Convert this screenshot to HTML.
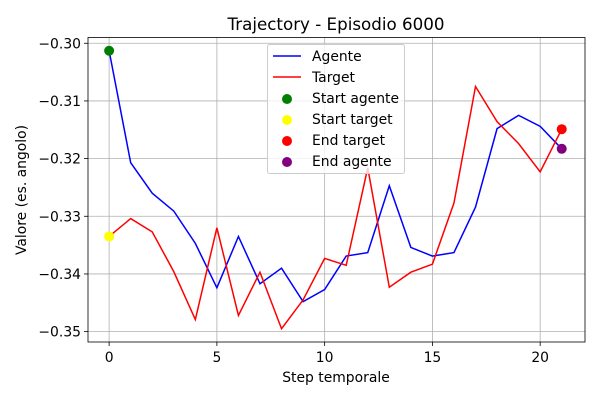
<!DOCTYPE html>
<html><head><meta charset="utf-8"><style>
body{margin:0;background:#fff}
svg{display:block;font-family:"DejaVu Sans","Liberation Sans",sans-serif}
</style></head><body>
<svg id="chart" width="600" height="400" viewBox="0 0 600 400"></svg>
<script>
const steps=[0,1,2,3,4,5,6,7,8,9,10,11,12,13,14,15,16,17,18,19,20,21];
const agente=[-0.3013,-0.3207,-0.3260,-0.3291,-0.3347,-0.3424,-0.3335,-0.3417,-0.3390,-0.3448,-0.3427,-0.3369,-0.3363,-0.3247,-0.3354,-0.3369,-0.3363,-0.3284,-0.3148,-0.3125,-0.3144,-0.3183];
const target=[-0.3335,-0.3304,-0.3327,-0.3396,-0.3479,-0.3320,-0.3472,-0.3397,-0.3495,-0.3445,-0.3373,-0.3385,-0.3216,-0.3423,-0.3397,-0.3383,-0.3277,-0.3075,-0.3136,-0.3174,-0.3223,-0.3149];
const xTicks=[0,5,10,15,20];
const yTicks=[-0.30,-0.31,-0.32,-0.33,-0.34,-0.35];
const yTickLabels=["\u22120.30","\u22120.31","\u22120.32","\u22120.33","\u22120.34","\u22120.35"];
const L=88,R=585,T=37.5,B=342;
const xMin=-0.98,xMax=22.08,yMin=-0.3518,yMax=-0.2990;
const sx=v=>L+(v-xMin)/(xMax-xMin)*(R-L);
const sy=v=>B-(v-yMin)/(yMax-yMin)*(B-T);
const svg=document.getElementById('chart');
const NS='http://www.w3.org/2000/svg';
function mk(tag,attrs,parent){const e=document.createElementNS(NS,tag);for(const k in attrs)e.setAttribute(k,attrs[k]);(parent||svg).appendChild(e);return e;}
xTicks.forEach(t=>{const l=mk('line',{x1:sx(t),x2:sx(t),y1:T,y2:B,stroke:'#b0b0b0','stroke-width':0.8});


const tk=mk('line',{x1:sx(t),x2:sx(t),y1:B,y2:B+4,stroke:'#000','stroke-width':0.8});


const tx=mk('text',{x:sx(t),y:B+20,'text-anchor':'middle','font-size':13.9});tx.textContent=t;

});
yTicks.forEach((t,i)=>{const l=mk('line',{x1:L,x2:R,y1:sy(t),y2:sy(t),stroke:'#b0b0b0','stroke-width':0.8});


const tk=mk('line',{x1:L-4,x2:L,y1:sy(t),y2:sy(t),stroke:'#000','stroke-width':0.8});


const tx=mk('text',{x:L-7,y:sy(t)+5,'text-anchor':'end','font-size':13.9});tx.textContent=yTickLabels[i];

});
function line(vals,color,name){const p=mk('polyline',{points:steps.map((s,i)=>sx(s)+','+sy(vals[i])).join(' '),fill:'none',stroke:color,'stroke-width':1.5});

}
line(agente,'#0000ff','agente-line');
line(target,'#ff0000','target-line');
function dot(x,y,c,name){const d=mk('circle',{cx:sx(x),cy:sy(y),r:5,fill:c});

}
const n=steps.length-1;
dot(steps[0],agente[0],'green','start-agente-marker');
dot(steps[0],target[0],'yellow','start-target-marker');
dot(steps[n],target[n],'red','end-target-marker');
dot(steps[n],agente[n],'purple','end-agente-marker');
const fr=mk('rect',{x:L,y:T,width:R-L,height:B-T,fill:'none',stroke:'#000','stroke-width':0.8});


</script>
<svg width="600" height="400" style="position:absolute;left:0;top:0;font-family:'DejaVu Sans','Liberation Sans',sans-serif">
<text x="336" y="30" text-anchor="middle" font-size="16.7">Trajectory - Episodio 6000</text>
<text x="336" y="382" text-anchor="middle" font-size="13.9">Step temporale</text>
<text transform="translate(26,190) rotate(-90)" text-anchor="middle" font-size="13.9">Valore (es. angolo)</text>
<g font-size="13.9">
<rect x="267.5" y="44.5" width="137" height="129" rx="2" fill="#fff" fill-opacity="0.8" stroke="#ccc"/>
<g><line x1="273" x2="301" y1="56" y2="56" stroke="#0000ff" stroke-width="1.5"/><text x="312" y="61">Agente</text></g>
<g><line x1="273" x2="301" y1="77" y2="77" stroke="#ff0000" stroke-width="1.5"/><text x="312" y="82">Target</text></g>
<g><circle cx="287" cy="99" r="5" fill="green"/><text x="312" y="103">Start agente</text></g>
<g><circle cx="287" cy="120" r="5" fill="yellow"/><text x="312" y="124">Start target</text></g>
<g><circle cx="287" cy="141" r="5" fill="red"/><text x="312" y="145">End target</text></g>
<g><circle cx="287" cy="162" r="5" fill="purple"/><text x="312" y="166">End agente</text></g>
</g>
</svg>
</body></html>
